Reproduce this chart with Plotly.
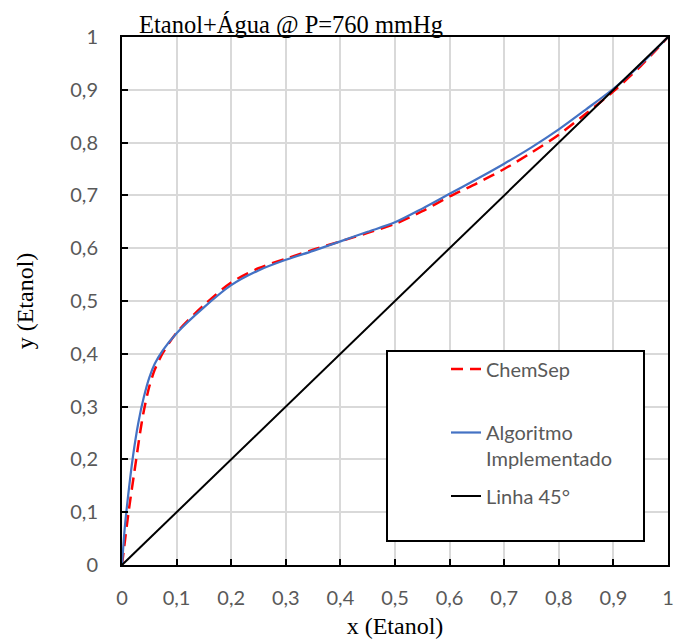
import plotly.graph_objects as go

# ChemSep reference equilibrium curve (x, y of ethanol)
chemsep_x = [0.0, 0.012, 0.026, 0.033, 0.040, 0.050, 0.060, 0.075, 0.10, 0.15, 0.20, 0.25, 0.30, 0.35, 0.40, 0.45, 0.50,
             0.55, 0.60, 0.65, 0.70, 0.75, 0.80, 0.85, 0.90, 0.95, 1.0]
chemsep_y = [0.0, 0.100, 0.200, 0.250, 0.292, 0.338, 0.370, 0.402, 0.440, 0.492, 0.535, 0.562, 0.580, 0.597, 0.613, 0.629, 0.646,
             0.670, 0.698, 0.723, 0.750, 0.781, 0.815, 0.855, 0.897, 0.945, 1.0]

# Implemented algorithm curve
algo_x = [0.0, 0.005, 0.010, 0.020, 0.030, 0.040, 0.050, 0.060, 0.075, 0.10, 0.15, 0.20, 0.25, 0.30, 0.35, 0.40, 0.45,
          0.50, 0.55, 0.60, 0.65, 0.70, 0.75, 0.80, 0.85, 0.90, 0.95, 1.0]
algo_y = [0.0, 0.070, 0.120, 0.205, 0.270, 0.318, 0.355, 0.381, 0.407, 0.439, 0.488, 0.530, 0.558, 0.578, 0.595, 0.613, 0.631,
          0.649, 0.675, 0.703, 0.731, 0.760, 0.791, 0.825, 0.863, 0.902, 0.948, 1.0]

# 45 degree line
diag_x = [0.0, 1.0]
diag_y = [0.0, 1.0]

tick_vals = [i / 10 for i in range(11)]
tick_text = ["0", "0,1", "0,2", "0,3", "0,4", "0,5", "0,6", "0,7", "0,8", "0,9", "1"]

W, H = 676, 639
ML, MR, MT, MB = 122, 8, 37, 74
PW, PH = W - ML - MR, H - MT - MB

def px_x(p):
    return (p - ML) / PW

def px_y(p):
    return (H - MB - p) / PH

fig = go.Figure()
fig.add_trace(go.Scatter(x=chemsep_x, y=chemsep_y, mode="lines", name="ChemSep",
                         line=dict(color="#FF0000", width=2.5, dash="12px,7px", shape="spline", smoothing=0.8),
                         legend="legend"))
fig.add_trace(go.Scatter(x=algo_x, y=algo_y, mode="lines", name="Algoritmo<br>Implementado",
                         line=dict(color="#4472C4", width=2.2, shape="spline", smoothing=0.8),
                         legend="legend2"))
fig.add_trace(go.Scatter(x=diag_x, y=diag_y, mode="lines", name="Linha 45°",
                         line=dict(color="black", width=2),
                         legend="legend3"))

tick_font = dict(family="Lato", size=20, color="#595959")
axis_common = dict(range=[0, 1], tickvals=tick_vals, ticktext=tick_text,
                   showline=True, linecolor="black", linewidth=2, mirror=True,
                   ticks="inside", ticklen=6, tickwidth=2, tickcolor="black",
                   showgrid=True, gridcolor="#d9d9d9", gridwidth=1.5,
                   zeroline=False, tickfont=tick_font, fixedrange=True, automargin=False)

leg_common = dict(font=dict(family="Lato", size=20, color="#595959"),
                  bgcolor="rgba(0,0,0,0)", borderwidth=0,
                  xanchor="left", yanchor="middle")

title_font = dict(family="Liberation Serif", size=24, color="black")

fig.update_layout(
    width=W, height=H,
    margin=dict(l=ML, r=MR, t=MT, b=MB),
    paper_bgcolor="white", plot_bgcolor="white",
    title=dict(text="Etanol+Água @ P=760 mmHg",
               font=dict(family="Liberation Serif", size=24.5, color="black"),
               x=px_x(139), xref="paper", xanchor="left",
               y=1 - 24 / H, yref="container", yanchor="middle"),
    xaxis=dict(**axis_common, ticklabelstandoff=14,
               title=dict(text="x (Etanol)", font=title_font, standoff=12)),
    yaxis=dict(**axis_common, ticklabelstandoff=18,
               title=dict(text="y (Etanol)", font=title_font, standoff=30)),
    legend=dict(**leg_common, x=px_x(446), y=px_y(369)),
    legend2=dict(**leg_common, x=px_x(446), y=px_y(445.5), valign="top"),
    legend3=dict(**leg_common, x=px_x(446), y=px_y(496)),
    showlegend=True,
    shapes=[dict(type="rect", xref="paper", yref="paper",
                 x0=px_x(387), x1=px_x(644), y0=px_y(541), y1=px_y(351),
                 line=dict(color="black", width=2), fillcolor="white", layer="above")],
)

fig.write_html("out.html", config={"displayModeBar": False},
               post_script="document.body.style.margin='0';")
